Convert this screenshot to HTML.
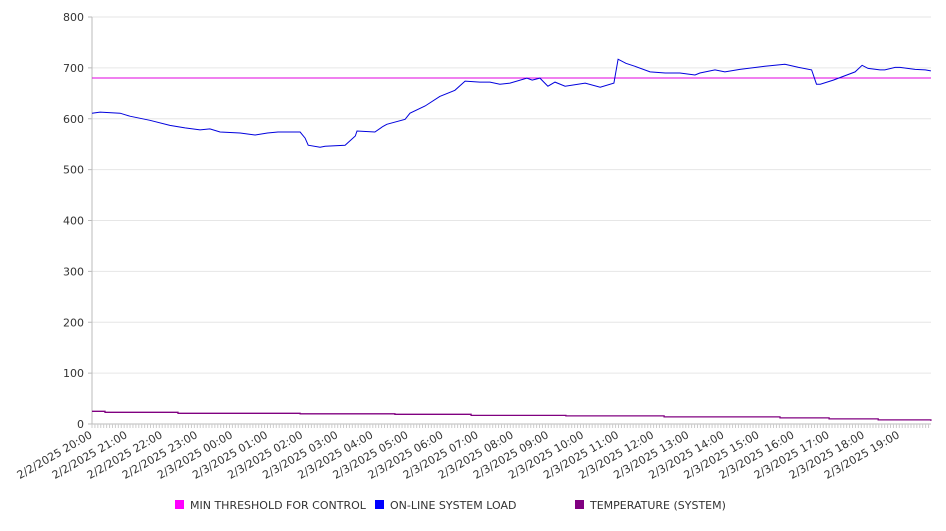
<!DOCTYPE html>
<html><head><meta charset="utf-8"><style>
body{margin:0;background:#fff;font-family:"Liberation Sans","DejaVu Sans",sans-serif;}
svg text{font-family:"DejaVu Sans","Liberation Sans",sans-serif;font-size:11px;fill:#333;}
</style></head><body>
<svg id="chart" width="946" height="526" xmlns="http://www.w3.org/2000/svg"></svg>
<script>
const xTickLabels=["2/2/2025 20:00","2/2/2025 21:00","2/2/2025 22:00","2/2/2025 23:00","2/3/2025 00:00","2/3/2025 01:00","2/3/2025 02:00","2/3/2025 03:00","2/3/2025 04:00","2/3/2025 05:00","2/3/2025 06:00","2/3/2025 07:00","2/3/2025 08:00","2/3/2025 09:00","2/3/2025 10:00","2/3/2025 11:00","2/3/2025 12:00","2/3/2025 13:00","2/3/2025 14:00","2/3/2025 15:00","2/3/2025 16:00","2/3/2025 17:00","2/3/2025 18:00","2/3/2025 19:00"];
const yTicks=[0,100,200,300,400,500,600,700,800];
const threshold=680;
const loadHours=[0,0.23,0.8,1.08,1.65,2.22,2.65,3.08,3.36,3.65,4.22,4.65,5.0,5.3,5.93,6.07,6.16,6.5,6.64,7.21,7.5,7.55,8.06,8.29,8.4,8.92,9.06,9.49,9.91,10.34,10.63,11.05,11.34,11.62,11.91,12.39,12.54,12.76,12.99,13.19,13.48,14.05,14.48,14.87,14.99,15.21,15.47,15.9,16.33,16.75,17.18,17.32,17.75,18.03,18.46,19.17,19.74,20.13,20.5,20.64,20.75,21.12,21.74,21.94,22.11,22.45,22.59,22.88,23.02,23.45,23.74,23.9];
const loadValues=[611,613,611,605,597,587,582,578,580,574,572,568,572,574,574,562,548,544,546,548,566,576,574,585,589,599,611,625,644,656,674,672,672,668,670,680,676,680,664,672,664,670,662,670,717,709,703,692,690,690,686,690,696,692,697,703,707,701,696,668,668,676,692,705,699,696,696,701,701,697,696,694];
const tempHours=[0,0.37,2.45,5.93,8.63,10.8,13.5,16.3,19.6,21.0,22.4,23.9];
const tempValues=[25,23,21,20,19,17,16,14,12,10,8,6];
const svg=document.getElementById('chart');
const NS='http://www.w3.org/2000/svg';
const X0=92,X1=931,Y0=424,Y1=17,PXH=35.1;
const xs=h=>X0+h*PXH;
const ys=v=>Y0-(v/800)*(Y0-Y1);
function mk(t,a){const e=document.createElementNS(NS,t);for(const k in a)e.setAttribute(k,a[k]);svg.appendChild(e);return e;}
yTicks.forEach(v=>{
 const g=mk('line',{x1:X0,x2:X1,y1:ys(v),y2:ys(v),stroke:v===0?'#bbb':'#e6e6e6','stroke-width':1});
 
 
 const tk=mk('line',{x1:X0-4,x2:X0,y1:ys(v),y2:ys(v),stroke:'#bbb'});
 
 
 const t=mk('text',{x:X0-8,y:ys(v)+4,'text-anchor':'end'});t.textContent=v;
 
 
});
const ax=mk('line',{x1:X0,x2:X0,y1:Y1,y2:Y0,stroke:'#bbb'});


for(let m=0;m<=23.9*60;m+=5){const tk=mk('line',{x1:xs(m/60),x2:xs(m/60),y1:Y0,y2:Y0+4,stroke:'#ccc'});
 
 }
xTickLabels.forEach((l,i)=>{
 const x=xs(i)+1,y=Y0+13;
 const t=mk('text',{x:x,y:y,'text-anchor':'end',transform:`rotate(-30 ${x} ${y})`});t.textContent=l;
 
 
});
const th=mk('line',{x1:X0,x2:X1,y1:ys(threshold),y2:ys(threshold),stroke:'#e000e0','stroke-width':1});


let d=loadHours.map((h,i)=>(i?'L':'M')+xs(h).toFixed(1)+' '+ys(loadValues[i]).toFixed(1)).join(' ');
const lp=mk('path',{d:d,fill:'none',stroke:'#0000dd','stroke-width':1});


let d2='';tempHours.forEach((h,i)=>{const y=ys(tempValues[i]).toFixed(1);d2+=(i?' L'+xs(h).toFixed(1)+' '+ys(tempValues[i-1]).toFixed(1)+' L':'M')+xs(h).toFixed(1)+' '+y;});
const tp=mk('path',{d:d2,fill:'none',stroke:'#800080','stroke-width':1.3});


const leg=[["MIN THRESHOLD FOR CONTROL","#ff00ff",175],["ON-LINE SYSTEM LOAD","#0000ff",375],["TEMPERATURE (SYSTEM)","#800080",575]];
leg.forEach(([n,c,x])=>{
 const r=mk('rect',{x:x,y:500,width:9,height:9,fill:c});
 
 
 const t=mk('text',{x:x+15,y:509});t.textContent=n;
 
 
});
</script>
</body></html>
